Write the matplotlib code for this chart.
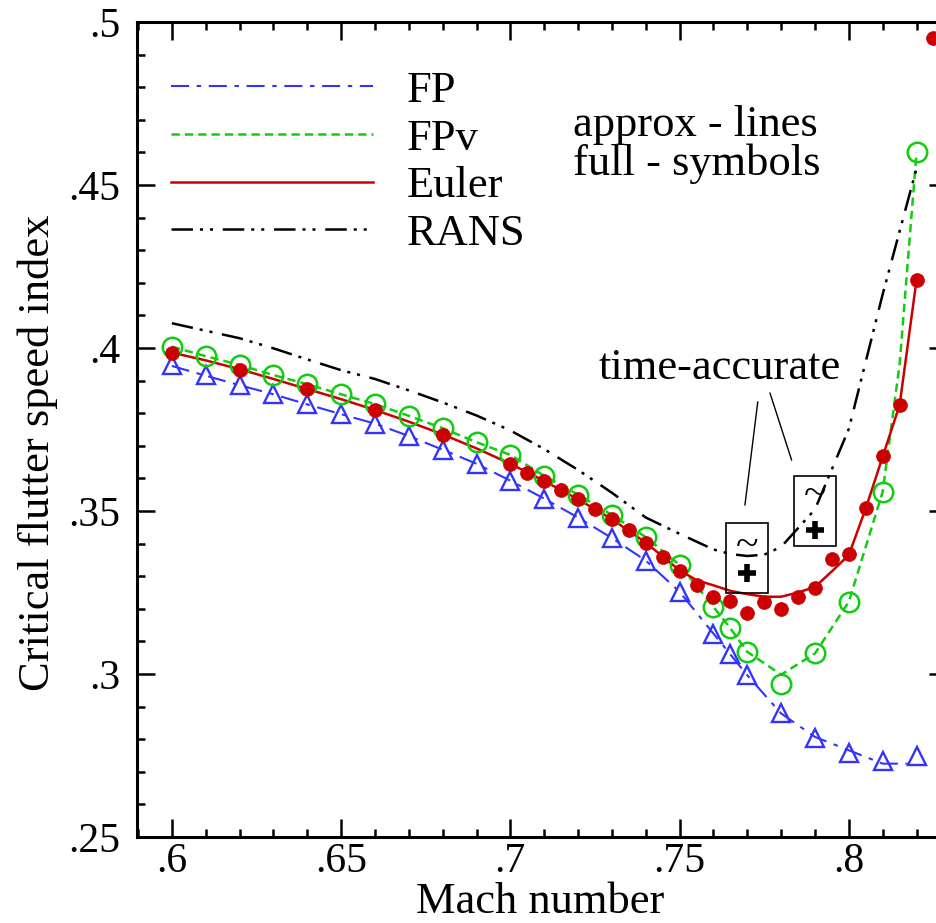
import matplotlib
matplotlib.use('Agg')
import matplotlib.pyplot as plt
from matplotlib.patches import Rectangle
from matplotlib.transforms import ScaledTranslation
from matplotlib.ticker import MultipleLocator, FuncFormatter

plt.rcParams['font.family'] = ['Liberation Serif', 'DejaVu Serif']
plt.rcParams['lines.scale_dashes'] = False

# ---------------- data ----------------
# FP (full potential) - symbols (full) and line (approx)
fp_sym_x = [0.60, 0.61, 0.62, 0.63, 0.64, 0.65, 0.66, 0.67, 0.68, 0.69, 0.70, 0.71,
            0.72, 0.73, 0.74, 0.75, 0.76, 0.765, 0.77, 0.78, 0.79, 0.80, 0.81, 0.82]
fp_sym_y = [0.3947, 0.3916, 0.3887, 0.3859, 0.3827, 0.3797, 0.3768, 0.3729, 0.3687,
            0.3644, 0.3592, 0.3537, 0.3479, 0.3416, 0.3348, 0.3250, 0.3124, 0.3060,
            0.2996, 0.2879, 0.2805, 0.2757, 0.2733, 0.2748]
fp_line_x = [0.60, 0.61, 0.62, 0.63, 0.64, 0.65, 0.66, 0.67, 0.68, 0.69, 0.70, 0.71,
             0.72, 0.73, 0.74, 0.75, 0.76, 0.765, 0.77, 0.78, 0.79, 0.80, 0.81, 0.82]
fp_line_y = [0.3945, 0.3915, 0.3886, 0.3858, 0.3827, 0.3797, 0.3768, 0.3730, 0.3688,
             0.3645, 0.3593, 0.3538, 0.3480, 0.3417, 0.3348, 0.3252, 0.3124, 0.3060,
             0.2996, 0.2879, 0.2807, 0.2766, 0.2725, 0.2725]

# FPv (full potential + viscous)
fpv_sym_x = [0.60, 0.61, 0.62, 0.63, 0.64, 0.65, 0.66, 0.67, 0.68, 0.69, 0.70, 0.71,
             0.72, 0.73, 0.74, 0.75, 0.76, 0.765, 0.77, 0.78, 0.79, 0.80, 0.81, 0.82]
fpv_sym_y = [0.4004, 0.3975, 0.3948, 0.3917, 0.3889, 0.3858, 0.3828, 0.3792, 0.3754,
             0.3711, 0.3672, 0.3608, 0.3550, 0.3488, 0.3420, 0.3334, 0.3206, 0.3140,
             0.3068, 0.2969, 0.3063, 0.3222, 0.3559, 0.4600]
fpv_line_x = [0.60, 0.61, 0.62, 0.63, 0.64, 0.65, 0.66, 0.67, 0.68, 0.69, 0.70, 0.71,
              0.72, 0.73, 0.74, 0.75, 0.76, 0.765, 0.77, 0.78, 0.79, 0.80, 0.81, 0.815, 0.82]
fpv_line_y = [0.4004, 0.3975, 0.3948, 0.3917, 0.3889, 0.3858, 0.3828, 0.3792, 0.3754,
              0.3711, 0.3672, 0.3608, 0.3550, 0.3488, 0.3420, 0.3334, 0.3206, 0.3140,
              0.3068, 0.2998, 0.3063, 0.3222, 0.3559, 0.3950, 0.4600]

# Euler
euler_sym_x = [0.60, 0.62, 0.64, 0.66, 0.68, 0.70, 0.705, 0.71, 0.715, 0.72, 0.725,
               0.73, 0.735, 0.74, 0.745, 0.75, 0.755, 0.76, 0.765, 0.77, 0.775, 0.78,
               0.785, 0.79, 0.795, 0.80, 0.805, 0.81, 0.815, 0.82, 0.825]
euler_sym_y = [0.3986, 0.3933, 0.3874, 0.3810, 0.3733, 0.3644, 0.3618, 0.3592, 0.3564,
               0.3536, 0.3505, 0.3475, 0.3442, 0.3401, 0.3360, 0.3316, 0.3274, 0.3235,
               0.3225, 0.3188, 0.3222, 0.3198, 0.3237, 0.3265, 0.3352, 0.3368, 0.3508,
               0.3669, 0.3825, 0.4209, 0.4950]
euler_line_x = [0.60, 0.61, 0.62, 0.63, 0.64, 0.65, 0.66, 0.67, 0.68, 0.69, 0.70, 0.71,
                0.72, 0.73, 0.74, 0.75, 0.755, 0.76, 0.765, 0.77, 0.775, 0.78, 0.785,
                0.79, 0.795, 0.80, 0.805, 0.81, 0.815, 0.82]
euler_line_y = [0.3986, 0.3962, 0.3935, 0.3905, 0.3874, 0.3843, 0.3810, 0.3774, 0.3735,
                0.3692, 0.3645, 0.3592, 0.3536, 0.3475, 0.3403, 0.3318, 0.3288, 0.3272,
                0.3255, 0.3245, 0.3237, 0.3237, 0.3250, 0.3267, 0.3315, 0.3365, 0.3508,
                0.3667, 0.3825, 0.4209]

# RANS (line only)
rans_line_x = [0.60, 0.61, 0.62, 0.63, 0.64, 0.65, 0.66, 0.67, 0.68, 0.69, 0.70, 0.71,
               0.72, 0.73, 0.74, 0.75, 0.76, 0.765, 0.77, 0.775, 0.78, 0.79, 0.80, 0.81, 0.82]
rans_line_y = [0.4076, 0.4053, 0.4030, 0.3999, 0.3965, 0.3932, 0.3905, 0.3870, 0.3833,
               0.3793, 0.3747, 0.3690, 0.3626, 0.3556, 0.3480, 0.3430, 0.3382, 0.3368,
               0.3362, 0.3366, 0.3390, 0.3505, 0.3752, 0.4165, 0.4551]

# time-accurate RANS results
ta_x = [0.77, 0.79]
ta_y = [0.3309, 0.3442]

# ---------------- styling ----------------
BLUE = '#3333ff'
GREEN = '#11cc11'
RED = '#cc0000'
FS = 32

fig = plt.figure(figsize=(9.36, 9.23), dpi=100)
ax = fig.add_axes([137 / 936, 86 / 923, 810 / 936, 815 / 923])
ax.set_xlim(0.5897, 0.829)
ax.set_ylim(0.25, 0.5)

# lines (approx)
l_fp, = ax.plot(fp_line_x, fp_line_y, color=BLUE, lw=1.5,
                dashes=(13, 5.5, 3.2, 5.5), label='FP', zorder=2)
l_fpv, = ax.plot(fpv_line_x, fpv_line_y, color=GREEN, lw=1.8,
                 dashes=(6, 3.6), label='FPv', zorder=2)
l_eu, = ax.plot(euler_line_x, euler_line_y, color=RED, lw=1.8,
                label='Euler', zorder=2)
l_ra, = ax.plot(rans_line_x, rans_line_y, color='black', lw=1.8,
                dashes=(15.5, 5, 2.2, 5, 2.2, 7), label='RANS', zorder=2)

# symbols (full)
ax.plot(fp_sym_x, fp_sym_y, ls='none', marker='^', ms=13, mfc='none',
        mec=BLUE, mew=1.7, zorder=3)
ax.plot(fpv_sym_x, fpv_sym_y, ls='none', marker='o', ms=14, mfc='none',
        mec=GREEN, mew=1.8, zorder=4)
ax.plot(euler_sym_x, euler_sym_y, ls='none', marker='o', ms=10, mfc=RED,
        mec=RED, mew=0.5, zorder=5, clip_on=False)

# time-accurate points with boxes
ax.plot(ta_x, ta_y, ls='none', marker='+', ms=13, mew=4, color='black', zorder=6)
box_below = [0.20, 0.16]
tilde_up = [20, 25]
for x, y, below, up in zip(ta_x, ta_y, box_below, tilde_up):
    trans = fig.dpi_scale_trans + ScaledTranslation(x, y, ax.transData)
    ax.add_patch(Rectangle((-0.21, -below), 0.42, 0.70, transform=trans,
                           fill=False, ec='black', lw=1.2, zorder=6))
    ax.annotate('~', xy=(x, y), xytext=(0, up), textcoords='offset points',
                ha='center', va='center', fontsize=30, rotation=0, zorder=6)

# "time-accurate" label with leader lines
ax.text(0.7619, 0.3939, 'time-accurate', ha='center', va='center', fontsize=FS)
ax.annotate('', xy=(0.7693, 0.3518), xytext=(0.7731, 0.3835),
            arrowprops=dict(arrowstyle='-', color='black', lw=1.0,
                            shrinkA=0, shrinkB=0))
ax.annotate('', xy=(0.7831, 0.3656), xytext=(0.7767, 0.3862),
            arrowprops=dict(arrowstyle='-', color='black', lw=1.0,
                            shrinkA=0, shrinkB=0))

# approx / full note
ax.text(0.7185, 0.4685, 'approx - lines', ha='left', va='center', fontsize=FS)
ax.text(0.7185, 0.4565, 'full - symbols', ha='left', va='center', fontsize=FS)

# legend
ax.legend(handles=[l_fp, l_fpv, l_eu, l_ra], loc='upper left',
          bbox_to_anchor=(0.042, 0.94), frameon=False, fontsize=FS,
          handlelength=4.55, handletextpad=0.75, labelspacing=0.17,
          borderpad=0.0, borderaxespad=0.0)

# axes / ticks
ax.xaxis.set_major_locator(MultipleLocator(0.05))
ax.xaxis.set_minor_locator(MultipleLocator(0.01))
ax.yaxis.set_major_locator(MultipleLocator(0.05))
ax.yaxis.set_minor_locator(MultipleLocator(0.01))
fmt = FuncFormatter(lambda v, p: ('%g' % round(v, 3)).lstrip('0'))
ax.xaxis.set_major_formatter(fmt)
ax.yaxis.set_major_formatter(fmt)
ax.tick_params(which='both', direction='in', top=True, right=True, width=1.8)
ax.tick_params(which='major', length=13)
ax.tick_params(which='minor', length=6)
ax.tick_params(axis='y', which='major', pad=12, labelsize=30)
ax.tick_params(axis='x', which='major', pad=4, labelsize=30)
for s in ax.spines.values():
    s.set_linewidth(2.2)

ax.set_xlabel('Mach number', fontsize=FS)
ax.set_ylabel('Critical flutter speed index', fontsize=FS)
ax.xaxis.set_label_coords(0.4975, -0.055)
ax.yaxis.set_label_coords(-0.098, 0.472)

fig.savefig('out.png', dpi=100)
